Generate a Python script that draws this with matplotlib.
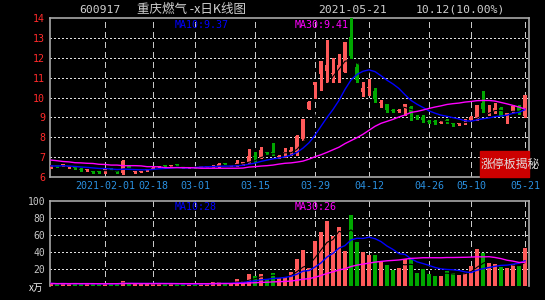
import pandas as pd
import matplotlib
from matplotlib import pyplot as plt
from matplotlib.patches import Rectangle

matplotlib.use('Agg')

# trading days 2021-01-19 .. 2021-05-21 (spring festival, qingming, may day closed)
holidays = ["2021-02-11", "2021-02-12", "2021-02-15", "2021-02-16", "2021-02-17",
            "2021-04-05", "2021-05-03", "2021-05-04", "2021-05-05"]
trade_days = pd.bdate_range("2021-01-19", "2021-05-21", freq="C", holidays=holidays)

open_p = [6.52, 6.56, 6.58, 6.48, 6.55, 6.40, 6.33, 6.30, 6.26, 6.33,
          6.42, 6.30, 6.20, 6.60, 6.25, 6.26, 6.33, 6.42, 6.50, 6.57,
          6.54, 6.60, 6.50, 6.46, 6.48, 6.50, 6.50, 6.52, 6.55, 6.65,
          6.55, 6.60, 6.64, 6.72, 7.04, 6.97, 7.24, 7.23, 7.00, 7.22,
          7.24, 7.24, 7.91, 9.42, 10.63, 11.18, 11.33, 11.20, 11.32, 11.30,
          13.06, 11.53, 10.30, 10.47, 10.33, 9.74, 9.66, 9.36, 9.33, 9.49,
          9.52, 9.00, 9.03, 8.80, 8.80, 8.74, 8.86, 8.67, 8.69, 8.74,
          8.87, 8.98, 9.71, 9.19, 9.26, 9.49, 9.08, 9.29, 9.55, 9.05]
high_p = [6.62, 6.60, 6.64, 6.52, 6.57, 6.45, 6.40, 6.32, 6.30, 6.38,
          6.45, 6.32, 6.86, 6.62, 6.32, 6.32, 6.40, 6.48, 6.55, 6.62,
          6.58, 6.62, 6.52, 6.50, 6.49, 6.54, 6.55, 6.62, 6.69, 6.66,
          6.60, 6.86, 6.76, 7.43, 7.27, 7.52, 7.26, 7.69, 7.12, 7.44,
          7.52, 8.10, 8.92, 9.81, 10.80, 11.86, 12.89, 12.00, 12.20, 12.80,
          14.00, 11.72, 10.80, 10.92, 10.46, 9.87, 9.67, 9.42, 9.42, 9.69,
          9.55, 9.10, 9.10, 8.88, 8.88, 8.83, 8.92, 8.72, 8.77, 8.90,
          9.05, 9.64, 10.33, 9.62, 9.74, 9.50, 9.22, 9.60, 9.62, 10.12]
low_p = [6.45, 6.50, 6.55, 6.44, 6.42, 6.30, 6.30, 6.20, 6.20, 6.22,
         6.35, 6.22, 6.13, 6.40, 6.22, 6.24, 6.30, 6.40, 6.48, 6.52,
         6.53, 6.55, 6.46, 6.45, 6.44, 6.49, 6.49, 6.48, 6.50, 6.62,
         6.53, 6.56, 6.62, 6.70, 6.77, 6.95, 7.18, 7.10, 6.95, 7.02,
         7.10, 7.10, 7.88, 9.40, 9.99, 10.38, 10.80, 10.78, 10.80, 11.28,
         11.98, 10.80, 10.09, 10.13, 9.76, 9.54, 9.26, 9.28, 9.28, 9.12,
         8.85, 8.93, 8.78, 8.70, 8.65, 8.70, 8.72, 8.58, 8.62, 8.68,
         8.85, 8.87, 9.29, 9.10, 9.22, 9.05, 8.73, 9.27, 9.18, 9.03]
close_p = [6.56, 6.54, 6.60, 6.50, 6.45, 6.37, 6.36, 6.27, 6.23, 6.36,
           6.38, 6.24, 6.78, 6.43, 6.29, 6.28, 6.37, 6.46, 6.53, 6.55,
           6.56, 6.58, 6.48, 6.48, 6.46, 6.52, 6.53, 6.57, 6.65, 6.63,
           6.57, 6.72, 6.74, 7.07, 7.00, 7.36, 7.20, 7.21, 7.07, 7.25,
           7.36, 8.08, 8.92, 9.79, 10.80, 11.84, 11.64, 11.23, 11.64, 12.78,
           12.10, 10.90, 10.47, 10.50, 9.93, 9.77, 9.37, 9.34, 9.35, 9.66,
           9.24, 8.98, 8.85, 8.78, 8.78, 8.76, 8.80, 8.65, 8.71, 8.76,
           9.03, 9.62, 9.40, 9.21, 9.46, 9.07, 9.20, 9.59, 9.20, 10.12]

# 30 day average as shown on the chart (needs data before the window)
ma30_p = [6.85, 6.82, 6.78, 6.76, 6.72, 6.71, 6.69, 6.68, 6.64, 6.63,
          6.60, 6.60, 6.57, 6.57, 6.57, 6.56, 6.52, 6.52, 6.51, 6.47,
          6.47, 6.47, 6.47, 6.47, 6.46, 6.44, 6.44, 6.44, 6.44, 6.44,
          6.44, 6.44, 6.45, 6.50, 6.52, 6.55, 6.57, 6.60, 6.65, 6.69,
          6.71, 6.75, 6.80, 6.90, 7.02, 7.12, 7.24, 7.37, 7.50, 7.68,
          7.83, 7.98, 8.15, 8.35, 8.55, 8.70, 8.80, 8.90, 9.02, 9.12,
          9.25, 9.30, 9.37, 9.45, 9.52, 9.58, 9.65, 9.69, 9.72, 9.77,
          9.80, 9.84, 9.85, 9.85, 9.82, 9.75, 9.68, 9.60, 9.52, 9.42]

volume = [3, 2.5, 3, 2.5, 3, 2.5, 3, 2.5, 2, 3,
          2.5, 3, 6, 3, 2.5, 2, 3, 2.5, 3, 2,
          2.5, 2, 3, 2, 2.5, 3, 2.5, 5, 5, 3,
          3, 8, 6, 14, 12, 14, 8, 15.5, 9, 11,
          17, 32, 42, 21.6, 53, 63, 77, 59, 70, 41,
          83, 52, 40, 36, 36, 28.6, 24.7, 18.8, 20.8, 31.8,
          31.8, 15.7, 20, 14, 12, 12, 17.6, 15, 13, 15,
          23.5, 43.5, 38.4, 27.5, 26, 22.7, 20.8, 26, 24, 45]

tick_dates = ["2021-02-01", "2021-02-18", "2021-03-01", "2021-03-15", "2021-03-29",
              "2021-04-12", "2021-04-26", "2021-05-10", "2021-05-21"]
tick_labels = ["2021-02-01", "02-18", "03-01", "03-15", "03-29",
               "04-12", "04-26", "05-10", "05-21"]
price_ticks = [6, 7, 8, 9, 10, 11, 12, 13, 14]
vol_ticks = [20, 40, 60, 80, 100]


df = pd.DataFrame({"Open": open_p, "High": high_p, "Low": low_p, "Close": close_p,
                   "Volume": volume, "MA30": ma30_p}, index=trade_days)
df["MA5"] = df["Close"].rolling(5, min_periods=1).mean()
df["MA10"] = df["Close"].rolling(10, min_periods=1).mean()
df["VMA5"] = df["Volume"].rolling(5, min_periods=1).mean()
df["VMA10"] = df["Volume"].rolling(10, min_periods=1).mean()
df["VMA30"] = df["Volume"].rolling(30, min_periods=1).mean()
idx = list(range(len(df)))
tick_pos = [df.index.get_loc(pd.Timestamp(d)) for d in tick_dates]

RED = "#ff5a5a"
GREEN = "#00a800"
up = df["Close"] >= df["Open"]
colors = [RED if u else GREEN for u in up]

mono = ["DejaVu Sans Mono"]
cjk = ["Noto Sans CJK SC", "DejaVu Sans Mono"]

fig = plt.figure(figsize=(5.45, 3.0), dpi=100, facecolor="black")
ax_k = fig.add_axes([50/545, 1-177/300, 479/545, 159/300])
ax_v = fig.add_axes([50/545, 1-286/300, 479/545, 85/300])

for ax in (ax_k, ax_v):
    ax.set_facecolor("black")
    ax.set_xlim(-1/6, 79 + 4/6)
    for p in tick_pos:
        ax.axvline(p, color="#c8c8c8", lw=1, linestyle=(0, (4, 3)), zorder=1,
                   antialiased=False)
    for s in ax.spines.values():
        s.set_color("#a8a8a8")
        s.set_linewidth(1.2)

# price panel
ax_k.set_ylim(6, 14)
for y in price_ticks[1:-1]:
    ax_k.axhline(y, color="#e0e0e0", lw=1, linestyle=(0, (1, 2)), zorder=1,
                 antialiased=False)

ax_k.vlines(idx, df["Low"], df["High"], colors=colors, lw=1, zorder=3,
            antialiased=False)
body = (df["Close"] - df["Open"]).abs().clip(lower=0.05)
ax_k.bar(idx, body, bottom=df[["Open", "Close"]].min(axis=1), width=0.74,
         color=colors, linewidth=0, zorder=3, antialiased=False)
ax_k.plot(idx, df["MA5"], color="black", lw=0.8, zorder=4)
ax_k.plot(idx, df["MA10"], color="#0000ff", lw=1, zorder=4)
ax_k.plot(idx, df["MA30"], color="#ff00ff", lw=1, zorder=4)

ax_k.set_yticks(price_ticks)
ax_k.set_yticklabels([str(v) for v in price_ticks], color="#ff2a2a",
                     fontsize=7.2, family=mono)
ax_k.set_xticks(tick_pos)
ax_k.set_xticklabels(tick_labels, color="#2a90e0", fontsize=7.2, family=mono)
ax_k.tick_params(length=0, pad=3.5)
ax_k.tick_params(axis="x", pad=3)

ax_k.add_patch(Rectangle((0.898, 0.0), 0.102, 0.165, transform=ax_k.transAxes,
                         color="#cc0000", zorder=5, clip_on=False))
ax_k.text(0.9, 0.08, "涨停板揭秘", transform=ax_k.transAxes, color="#e0e0e0",
          fontsize=8.6, family=cjk, ha="left", va="center", zorder=6, clip_on=False)

# volume panel
ax_v.set_ylim(0, 100)
for y in vol_ticks[:-1]:
    ax_v.axhline(y, color="#e0e0e0", lw=1, linestyle=(0, (1, 2)), zorder=1,
                 antialiased=False)
ax_v.bar(idx, df["Volume"], width=0.76, color=colors, linewidth=0, zorder=3,
         antialiased=False)
ax_v.plot(idx, df["VMA5"], color="black", lw=0.8, zorder=4)
ax_v.plot(idx, df["VMA10"], color="#0000ff", lw=1, zorder=4)
ax_v.plot(idx, df["VMA30"], color="#ff00ff", lw=1, zorder=4)
ax_v.spines["bottom"].set_visible(False)
ax_v.set_xticks([])
ax_v.set_yticks(vol_ticks)
ax_v.set_yticklabels([str(v) for v in vol_ticks], color="#c8c8c8",
                     fontsize=7, family=mono)
ax_v.tick_params(length=0, pad=3.5)

# header texts
fig.text(79/545, 1-10/300, "600917", color="#d0d0d0", fontsize=8.2, family=mono, va="center")
fig.text(137/545, 1-10/300, "重庆燃气 -x日K线图", color="#d0d0d0", fontsize=9,
         family=cjk, va="center")
fig.text(318/545, 1-10/300, "2021-05-21", color="#d0d0d0", fontsize=8.2, family=mono, va="center")
fig.text(416/545, 1-10/300, "10.12(10.00%)", color="#d0d0d0", fontsize=8.2, family=mono, va="center")
fig.text(175/545, 1-25/300, "MA10:9.37", color="#0000ff", fontsize=7.2, family=mono, va="center")
fig.text(295/545, 1-25/300, "MA30:9.41", color="#ff00ff", fontsize=7.2, family=mono, va="center")
fig.text(175/545, 1-207/300, "MA10:28", color="#0000ff", fontsize=7.2, family=mono, va="center")
fig.text(295/545, 1-207/300, "MA30:26", color="#ff00ff", fontsize=7.2, family=mono, va="center")
fig.text(29/545, 1-288/300, "x万", color="#f0f0f0", fontsize=7, family=cjk, va="center")

fig.savefig("out.png", dpi=100, facecolor="black")
